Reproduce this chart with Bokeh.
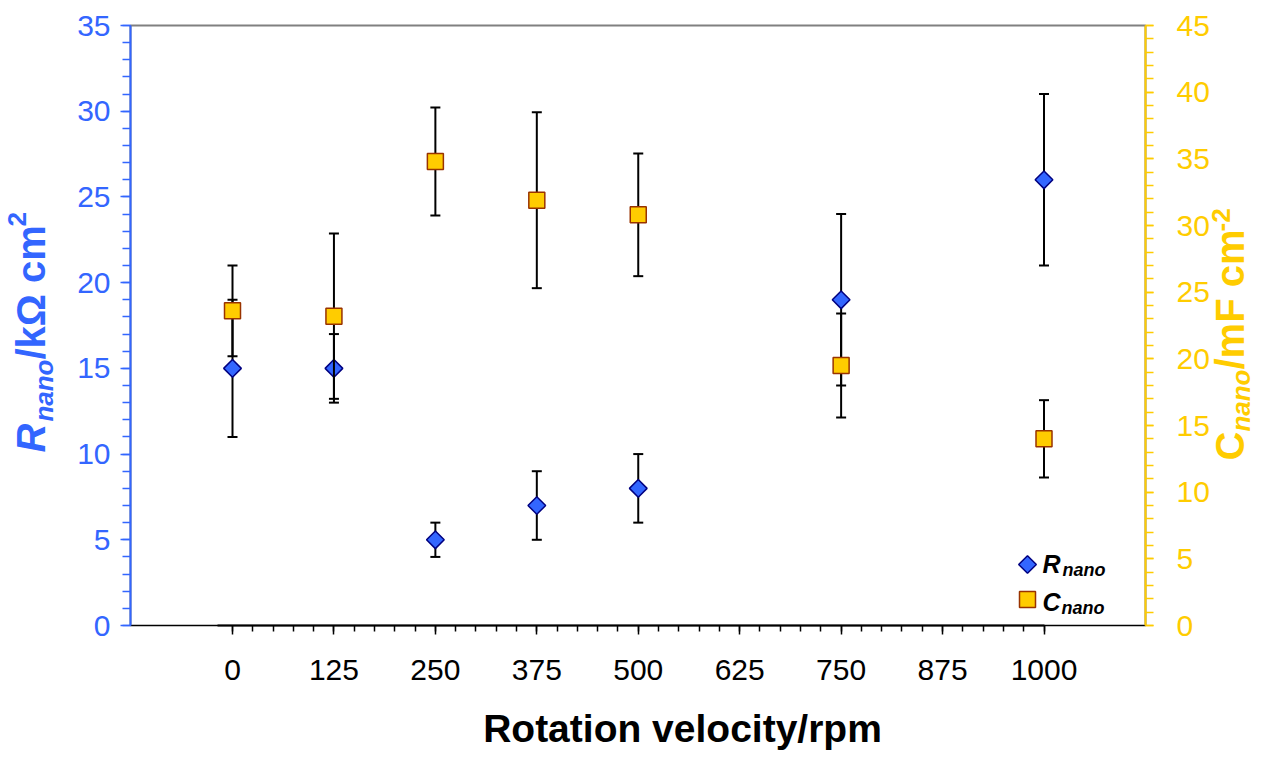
import math
from bokeh.plotting import figure
from bokeh.models import (Range1d, LinearAxis, FixedTicker, Label, ColumnDataSource,
                          BoxAnnotation, Grid)
from bokeh.embed import file_html
from bokeh.resources import INLINE

# ---------------- data ----------------
rpm = [0, 125, 250, 375, 500, 750, 1000]
r_nano = [15.0, 15.0, 5.0, 7.0, 8.0, 19.0, 26.0]
r_err = [4.0, 2.0, 1.0, 2.0, 2.0, 5.0, 5.0]
c_nano = [23.6, 23.2, 34.8, 31.9, 30.8, 19.5, 14.0]
c_err = [3.4, 6.2, 4.05, 6.6, 4.6, 3.9, 2.9]

x_ticks = [0, 125, 250, 375, 500, 625, 750, 875, 1000]
x_minor = list(range(0, 1001, 25))
left_ticks = [0, 5, 10, 15, 20, 25, 30, 35]
left_minor = list(range(0, 36))
right_ticks = [0, 5, 10, 15, 20, 25, 30, 35, 40, 45]
right_minor = list(range(0, 46))

BLUE = "#3366ff"
YELLOW = "#ffcc00"
FONT = "Liberation Sans"

W, H = 1255, 751
X0PX, XSCALE = 232.0, 0.8115          # px of x=0, px per rpm
Y0PX = 625.0                          # px of y=0
YSCALE_L = 600.0 / 35.0
YSCALE_R = 600.0 / 45.0
BOX_L, BOX_R = (130 - X0PX) / XSCALE, (1145 - X0PX) / XSCALE

src = ColumnDataSource(dict(
    x=rpm,
    r=r_nano, rlo=[v - e for v, e in zip(r_nano, r_err)], rhi=[v + e for v, e in zip(r_nano, r_err)],
    c=c_nano, clo=[v - e for v, e in zip(c_nano, c_err)], chi=[v + e for v, e in zip(c_nano, c_err)],
))

p = figure(frame_width=W, frame_height=H,
           x_range=Range1d(-X0PX / XSCALE, (W - X0PX) / XSCALE),
           y_range=Range1d(-(H - Y0PX) / YSCALE_L, Y0PX / YSCALE_L),
           x_axis_location=None, y_axis_location=None,
           output_backend="svg", toolbar_location=None,
           min_border=0)
p.extra_y_ranges = {"c": Range1d(-(H - Y0PX) / YSCALE_R, Y0PX / YSCALE_R)}
for g in p.select(type=Grid):
    g.visible = False
p.outline_line_color = None
p.background_fill_color = "white"
p.border_fill_color = "white"

# plot box
p.add_layout(BoxAnnotation(left=BOX_L, right=BOX_R, bottom=0, top=35, fill_color=None, fill_alpha=0,
                           line_color="#808080", line_alpha=1.0, line_width=2, level="underlay"))
p.segment(x0=[BOX_L], y0=[0], x1=[BOX_R], y1=[0], line_color="black", line_width=1)

# x axis
xa = LinearAxis(ticker=FixedTicker(ticks=x_ticks, minor_ticks=x_minor), fixed_location=0,
                bounds=(-18, 1000))
xa.axis_line_width = 2
xa.axis_line_color = "black"
xa.major_tick_line_color = "black"
xa.minor_tick_line_color = "black"
xa.major_tick_line_width = 1.5
xa.minor_tick_line_width = 1.5
xa.major_tick_in = 0
xa.minor_tick_in = 0
xa.major_tick_out = 9
xa.minor_tick_out = 6
xa.major_label_text_font = FONT
xa.major_label_text_font_size = "30px"
xa.major_label_text_color = "black"
xa.major_label_standoff = 25
p.add_layout(xa, "below")

# left axis
ya = LinearAxis(ticker=FixedTicker(ticks=left_ticks, minor_ticks=left_minor), fixed_location=BOX_L,
                bounds=(0, 35))
ya.axis_line_color = BLUE
ya.axis_line_width = 2
ya.major_tick_line_color = BLUE
ya.minor_tick_line_color = BLUE
ya.major_tick_line_width = 1.5
ya.minor_tick_line_width = 1.5
ya.major_tick_in = 0
ya.minor_tick_in = 0
ya.major_tick_out = 10
ya.minor_tick_out = 8
ya.major_label_text_font = FONT
ya.major_label_text_font_size = "30px"
ya.major_label_text_color = BLUE
ya.major_label_standoff = 10
p.add_layout(ya, "left")

# right axis
ra = LinearAxis(y_range_name="c", ticker=FixedTicker(ticks=right_ticks, minor_ticks=right_minor),
                fixed_location=BOX_R, bounds=(0, 45))
ra.axis_line_color = YELLOW
ra.axis_line_width = 2
ra.major_tick_line_color = YELLOW
ra.minor_tick_line_color = YELLOW
ra.major_tick_line_width = 1.5
ra.minor_tick_line_width = 1.5
ra.major_tick_in = 0
ra.minor_tick_in = 0
ra.major_tick_out = 8
ra.minor_tick_out = 8
ra.major_label_text_font = FONT
ra.major_label_text_font_size = "30px"
ra.major_label_text_color = YELLOW
ra.major_label_standoff = 23
p.add_layout(ra, "right")

# R_nano error bars and markers
p.segment(x0="x", y0="rlo", x1="x", y1="rhi", source=src, line_color="black", line_width=2)
p.scatter(x="x", y="rlo", source=src, marker="dash", size=10, line_color="black", line_width=2)
p.scatter(x="x", y="rhi", source=src, marker="dash", size=10, line_color="black", line_width=2)
p.scatter(x="x", y="r", source=src, marker="square", angle=math.pi / 4, size=12.5,
          fill_color=BLUE, line_color="#000080", line_width=1.5)

# C_nano error bars and markers
p.segment(x0="x", y0="clo", x1="x", y1="chi", source=src, line_color="black", line_width=2, y_range_name="c")
p.scatter(x="x", y="clo", source=src, marker="dash", size=10, line_color="black", line_width=2, y_range_name="c")
p.scatter(x="x", y="chi", source=src, marker="dash", size=10, line_color="black", line_width=2, y_range_name="c")
p.scatter(x="x", y="c", source=src, marker="square", size=16,
          fill_color=YELLOW, line_color="#993300", line_width=1.5, y_range_name="c")

# legend (manual)
p.scatter(x=[(1027 - X0PX) / XSCALE], y=[(Y0PX - 564) / YSCALE_L], marker="square", angle=math.pi / 4,
          size=12.5, fill_color=BLUE, line_color="#000080", line_width=1.5)
p.scatter(x=[(1027 - X0PX) / XSCALE], y=[(Y0PX - 599) / YSCALE_L], marker="square", size=16,
          fill_color=YELLOW, line_color="#993300", line_width=1.5)

K = 0.33  # empirical baseline correction (fraction of font size)


def lab(text, px, py, size, color, style="bold", angle=0.0, align="left"):
    """px, py: canvas pixel position (from top-left) of the text baseline start."""
    if angle == 0.0:
        py = py - K * size
    else:
        px = px - K * size
    p.add_layout(Label(text=text, x=px, y=H - py, x_units="screen", y_units="screen",
                       text_font=FONT, text_font_size=f"{size}px", text_font_style=style,
                       text_color=color, angle=angle, text_align=align,
                       text_baseline="alphabetic"))


lab("R", 1042, 572, 25, "black", "bold italic")
lab("nano", 1062, 575, 18, "black", "bold italic")
lab("C", 1042, 610, 25, "black", "bold italic")
lab("nano", 1061, 613, 18, "black", "bold italic")

# x title
lab("Rotation velocity/rpm", 682, 741, 39, "black", "bold", align="center")

# left title (rotated, reads bottom to top)
F, FS = 40, 26
A = math.pi / 2
wR = 0.722 * F + 2
wn = 2.389 * FS
wm = 3.325 * F
xb, yb = 44, 452
lab("R", xb, yb, F, BLUE, "bold italic", A)
lab("nano", xb + 8, yb - wR, FS, BLUE, "bold italic", A)
lab("/kΩ cm", xb, yb - wR - wn, F, BLUE, "bold", A)
lab("2", xb - 19, yb - wR - wn - wm, FS, BLUE, "bold", A)

# right title (rotated)
wC = 0.722 * F
wm2 = 3.501 * F
xb2, yb2 = 1243, 460
lab("C", xb2, yb2, F, YELLOW, "bold", A)
lab("nano", xb2 + 6, yb2 - wC, FS, YELLOW, "bold italic", A)
lab("/mF cm", xb2, yb2 - wC - wn, F, YELLOW, "bold", A)
lab("-2", xb2 - 14, yb2 - wC - wn - wm2 + 2, FS, YELLOW, "bold", A)

open("out.html", "w").write(file_html(p, INLINE))
